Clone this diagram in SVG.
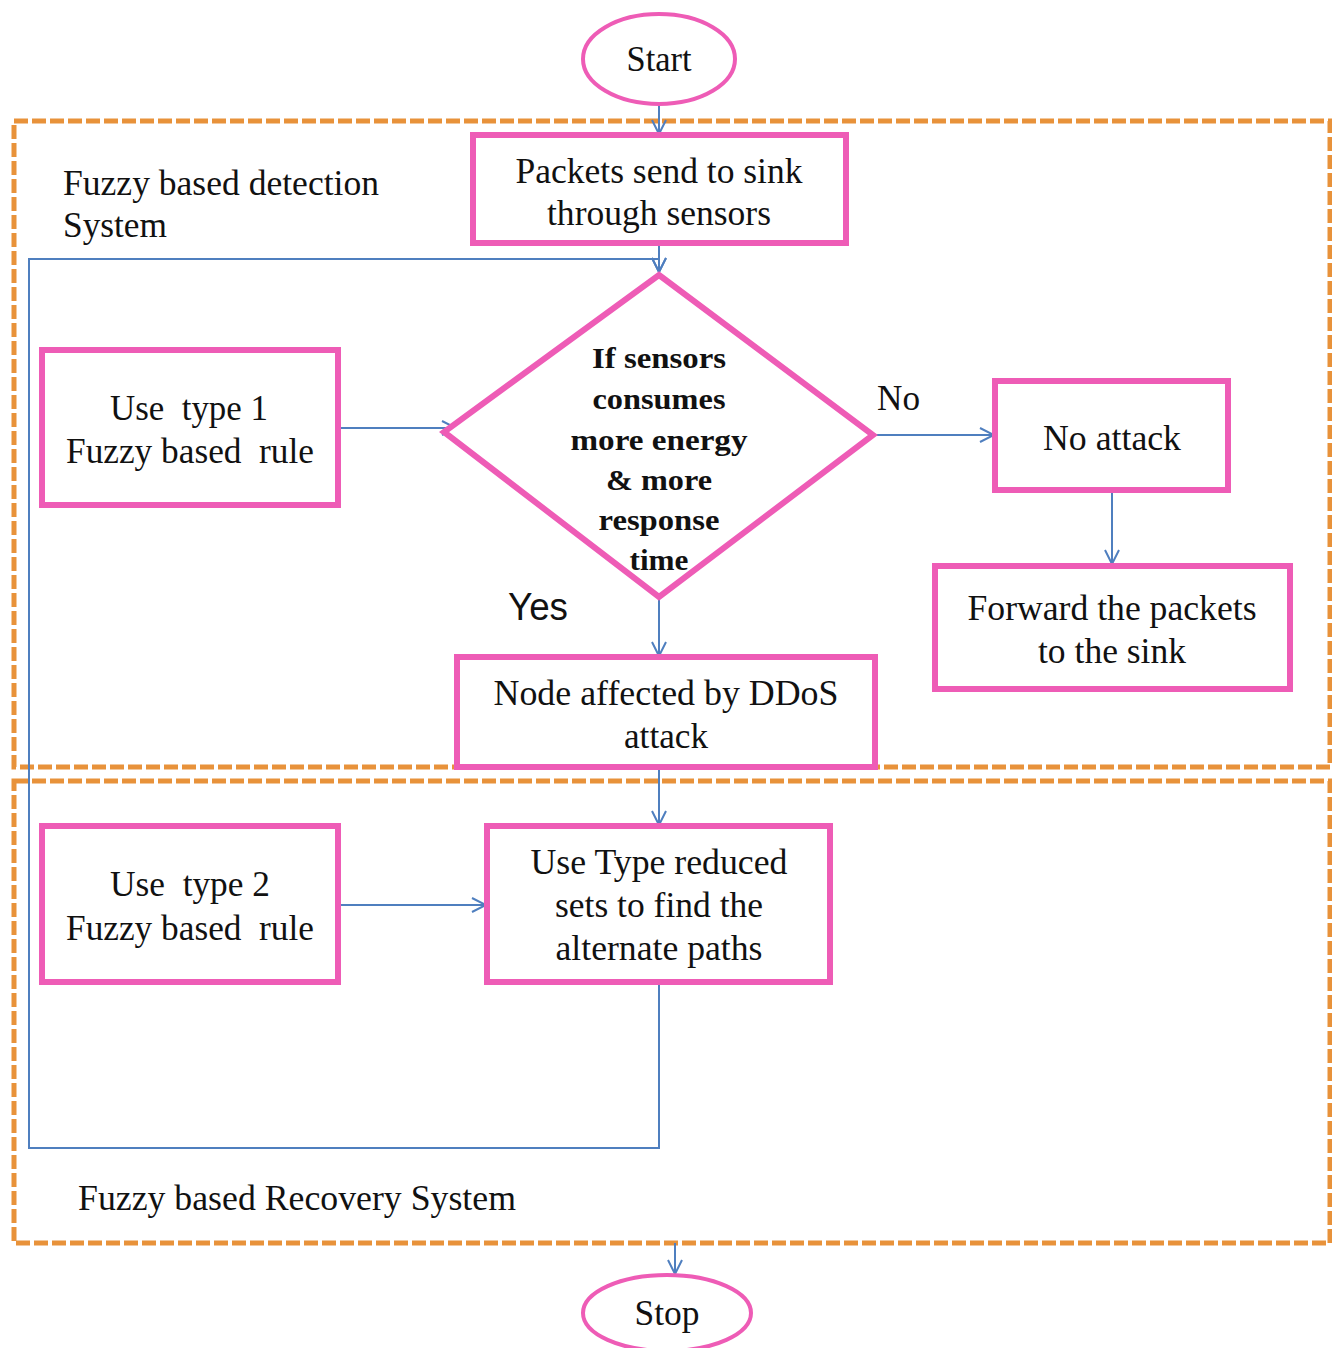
<svg xmlns="http://www.w3.org/2000/svg" width="1332" height="1348" viewBox="0 0 1332 1348">
  <defs>
    <marker id="arrow" viewBox="0 0 16 16" refX="15" refY="8" markerWidth="16" markerHeight="16" markerUnits="userSpaceOnUse" orient="auto">
      <path d="M1,1 L15,8 L1,15" fill="none" stroke="#4f7fbf" stroke-width="2"/>
    </marker>
  </defs>
  <style>
    .region { fill: none; stroke: #e8923a; stroke-width: 5; stroke-dasharray: 14 4; }
    .box { fill: #ffffff; stroke: #ee5cb6; stroke-width: 6; }
    .term { fill: #ffffff; stroke: #ee5cb6; stroke-width: 4; }
    .conn { fill: none; stroke: #4f7fbf; stroke-width: 2; }
    .t { font-family: "Liberation Serif", "Times New Roman", serif; font-size: 35px; fill: #111111; text-anchor: middle; white-space: pre; }
    .lbl { font-family: "Liberation Serif", "Times New Roman", serif; font-size: 35px; fill: #111111; }
    .d { font-family: "Liberation Serif", "Times New Roman", serif; font-size: 29px; font-weight: bold; fill: #111111; text-anchor: middle; }
    .yes { font-family: "Liberation Sans", Arial, sans-serif; font-size: 38px; fill: #111111; text-anchor: middle; }
  </style>
  <rect width="1332" height="1348" fill="#ffffff"/>

  <!-- system regions -->
  <g id="detection-region">
    <rect class="region" x="14" y="121" width="1316" height="646"/>
    <text class="lbl" x="63" y="195" textLength="316" lengthAdjust="spacingAndGlyphs">Fuzzy based detection</text>
    <text class="lbl" x="63" y="237" textLength="104" lengthAdjust="spacingAndGlyphs">System</text>
  </g>
  <g id="recovery-region">
    <rect class="region" x="14" y="781" width="1316" height="462"/>
    <text class="lbl" x="78" y="1210" textLength="438" lengthAdjust="spacingAndGlyphs">Fuzzy based Recovery System</text>
  </g>

  <!-- connectors -->
  <g id="connectors">
    <path class="conn" d="M659,104 L659,134" marker-end="url(#arrow)"/>
    <path class="conn" d="M659,243 L659,272" marker-end="url(#arrow)"/>
    <path class="conn" d="M659,982 L659,1148 L29,1148 L29,259 L659,259 L659,272" marker-end="url(#arrow)"/>
    <path class="conn" d="M338,428 L456,428" marker-end="url(#arrow)"/>
    <path class="conn" d="M873,435 L994,435" marker-end="url(#arrow)"/>
    <path class="conn" d="M1112,490 L1112,564" marker-end="url(#arrow)"/>
    <path class="conn" d="M659,597 L659,656" marker-end="url(#arrow)"/>
    <path class="conn" d="M659,767 L659,825" marker-end="url(#arrow)"/>
    <path class="conn" d="M338,905 L486,905" marker-end="url(#arrow)"/>
    <path class="conn" d="M675,1243 L675,1274" marker-end="url(#arrow)"/>
    <text class="lbl" x="877" y="410" textLength="43" lengthAdjust="spacingAndGlyphs">No</text>
    <text class="yes" x="538" y="620" textLength="60" lengthAdjust="spacingAndGlyphs">Yes</text>
  </g>

  <!-- nodes -->
  <g id="start">
    <ellipse class="term" cx="659" cy="59" rx="76" ry="45"/>
    <text class="t" x="659" y="71" textLength="65" lengthAdjust="spacingAndGlyphs">Start</text>
  </g>
  <g id="send-packets">
    <rect class="box" x="473" y="135" width="373" height="108"/>
    <text class="t" x="659" y="183" textLength="287" lengthAdjust="spacingAndGlyphs">Packets send to sink</text>
    <text class="t" x="659" y="225" textLength="224" lengthAdjust="spacingAndGlyphs">through sensors</text>
  </g>
  <g id="check-sensors">
    <polygon class="box" points="659,275 873,435 659,597 444,432" stroke-width="5"/>
    <text class="d" x="659" y="368" textLength="134" lengthAdjust="spacingAndGlyphs">If sensors</text>
    <text class="d" x="659" y="409" textLength="133" lengthAdjust="spacingAndGlyphs">consumes</text>
    <text class="d" x="659" y="450" textLength="177" lengthAdjust="spacingAndGlyphs">more energy</text>
    <text class="d" x="659" y="490" textLength="106" lengthAdjust="spacingAndGlyphs">&amp; more</text>
    <text class="d" x="659" y="530" textLength="121" lengthAdjust="spacingAndGlyphs">response</text>
    <text class="d" x="659" y="570" textLength="59" lengthAdjust="spacingAndGlyphs">time</text>
  </g>
  <g id="type1-rule">
    <rect class="box" x="42" y="350" width="296" height="155"/>
    <text class="t" x="189" y="420" textLength="158" lengthAdjust="spacingAndGlyphs" xml:space="preserve">Use  type 1</text>
    <text class="t" x="190" y="463" textLength="248" lengthAdjust="spacingAndGlyphs" xml:space="preserve">Fuzzy based  rule</text>
  </g>
  <g id="no-attack">
    <rect class="box" x="995" y="381" width="233" height="109"/>
    <text class="t" x="1112" y="450" textLength="138" lengthAdjust="spacingAndGlyphs">No attack</text>
  </g>
  <g id="forward-packets">
    <rect class="box" x="935" y="566" width="355" height="123"/>
    <text class="t" x="1112" y="620" textLength="289" lengthAdjust="spacingAndGlyphs">Forward the packets</text>
    <text class="t" x="1112" y="663" textLength="148" lengthAdjust="spacingAndGlyphs">to the sink</text>
  </g>
  <g id="ddos-node">
    <rect class="box" x="457" y="657" width="418" height="110"/>
    <text class="t" x="666" y="705" textLength="345" lengthAdjust="spacingAndGlyphs">Node affected by DDoS</text>
    <text class="t" x="666" y="748" textLength="84" lengthAdjust="spacingAndGlyphs">attack</text>
  </g>
  <g id="alternate-paths">
    <rect class="box" x="487" y="826" width="343" height="156"/>
    <text class="t" x="659" y="874" textLength="257" lengthAdjust="spacingAndGlyphs">Use Type reduced</text>
    <text class="t" x="659" y="917" textLength="208" lengthAdjust="spacingAndGlyphs">sets to find the</text>
    <text class="t" x="659" y="960" textLength="207" lengthAdjust="spacingAndGlyphs">alternate paths</text>
  </g>
  <g id="type2-rule">
    <rect class="box" x="42" y="826" width="296" height="156"/>
    <text class="t" x="190" y="896" textLength="160" lengthAdjust="spacingAndGlyphs" xml:space="preserve">Use  type 2</text>
    <text class="t" x="190" y="940" textLength="248" lengthAdjust="spacingAndGlyphs" xml:space="preserve">Fuzzy based  rule</text>
  </g>
  <g id="stop">
    <ellipse class="term" cx="667" cy="1313" rx="84" ry="38"/>
    <text class="t" x="667" y="1325" textLength="65" lengthAdjust="spacingAndGlyphs">Stop</text>
  </g>
</svg>
